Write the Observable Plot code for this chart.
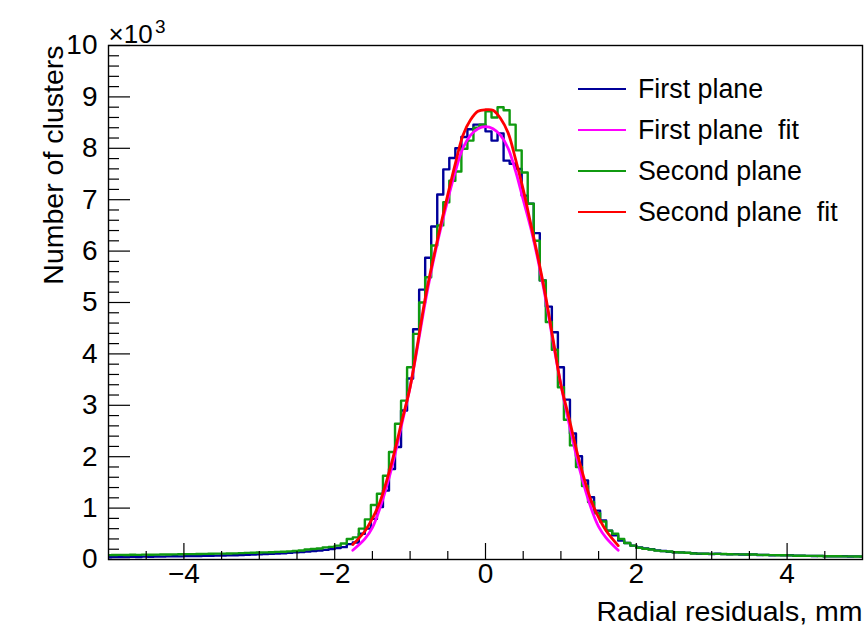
<!DOCTYPE html>
<html>
<head>
<meta charset="utf-8">
<script src="https://cdn.jsdelivr.net/npm/d3@7"></script>
<script src="https://cdn.jsdelivr.net/npm/@observablehq/plot@0.6"></script>
<style>
  html, body { margin: 0; padding: 0; background: #fff; }
  #wrap { position: relative; width: 868px; height: 626px; font-family: "Liberation Sans", Arial, Helvetica, sans-serif; }
  .leg { position: absolute; left: 578px; height: 30px; display: flex; align-items: center; font-size: 26.8px; color: #000; white-space: pre; }
  .leg i { display: inline-block; width: 48px; height: 2.5px; margin-right: 12px; }
</style>
</head>
<body>
<div id="wrap"></div>
<script>
// ---- data ----
const binLow = -5.04;      // left edge of first bin (mm)
const binWidth = 0.08;     // bin width (mm)

const firstPlane = [
  45,48,46,50,52,50,55,53,57,56,60,62,60,65,67,66,70,72,75,78,80,84,88,92,95,100,105,110,116,122,130,138,146,155,165,175,188,205,225,
  240,300,330,500,600,790,1020,1340,1760,2190,2900,3520,4480,5250,5870,6480,7100,7590,7810,8000,8220,8370,8460,8460,8330,8150,8290,7760,7700,7600,7080,6920,6350,5430,4920,4420,3740,3110,2450,2010,1540,1210,950,760,560,470,370,320,270,
  235,215,198,178,165,152,142,138,128,122,112,115,108,112,105,102,104,98,96,99,88,90,84,86,80,82,72,74,70,68,70,62,64,60,62,58,60,56
];
const secondPlane = [
  85,88,90,87,92,90,94,91,95,97,96,100,103,105,104,108,110,112,115,114,118,120,124,128,131,135,138,142,148,152,158,165,175,195,205,215,235,245,270,
  310,400,430,600,780,1060,1280,1630,2090,2640,3090,3740,4390,5000,5490,6110,6500,6950,7370,7550,7990,8150,8400,8460,8720,8600,8800,8740,8460,7960,7530,6920,6200,5430,4620,4080,3350,2720,2220,1800,1430,1120,900,740,560,500,400,320,270,
  230,210,195,172,162,155,140,135,130,118,115,113,110,110,108,103,100,100,98,96,90,88,86,84,82,80,74,72,70,70,68,64,62,62,60,60,58,58
];

const fitX      = [-1.76,-1.6,-1.5,-1.4,-1.25,-1.1,-1.0,-0.9,-0.8,-0.7,-0.6,-0.5,-0.4,-0.3,-0.2,-0.1,0,0.1,0.2,0.3,0.4,0.5,0.6,0.7,0.8,0.9,1.0,1.1,1.25,1.4,1.5,1.6,1.76];
const firstFit  = [180,400,620,1000,1750,2700,3350,4150,5000,5750,6400,7000,7550,8000,8250,8380,8420,8380,8250,8000,7550,7000,6450,5800,5050,4200,3400,2700,1750,1000,640,420,180];
const secondFit = [290,550,800,1120,1850,2750,3350,4200,5080,5800,6470,7100,7700,8250,8550,8720,8750,8740,8580,8300,7780,7200,6530,5850,5100,4250,3400,2800,1880,1150,820,560,270];

const xMajorTicks = [-4,-2,0,2,4];
const xTickLabels = ["\u22124","\u22122","0","2","4"];
const xMinorTicks = [-4.5,-3.5,-3,-2.5,-1.5,-1,-0.5,0.5,1,1.5,2.5,3,3.5,4.5];
const yMajorTicks = [0,1000,2000,3000,4000,5000,6000,7000,8000,9000,10000];
const yTickLabels = ["0","1","2","3","4","5","6","7","8","9","10"];
const yMinorTicks = [200,400,600,800,1200,1400,1600,1800,2200,2400,2600,2800,3200,3400,3600,3800,4200,4400,4600,4800,5200,5400,5600,5800,6200,6400,6600,6800,7200,7400,7600,7800,8200,8400,8600,8800,9200,9400,9600,9800];

const seriesNames = ["First plane","First plane  fit","Second plane","Second plane  fit"];
const seriesColors = ["#000099","#ff00ff","#109a10","#ff0000"];

// ---- build tables ----
function steps(values) {
  const pts = values.map((v, j) => ({x: binLow + j * binWidth, v}));
  pts.push({x: binLow + values.length * binWidth, v: values[values.length - 1]});
  return pts;
}
const h1 = steps(firstPlane), h2 = steps(secondPlane);
const f1 = fitX.map((x, i) => ({x, v: firstFit[i]}));
const f2 = fitX.map((x, i) => ({x, v: secondFit[i]}));

const W = 868, H = 626, mL = 108, mR = 6, mT = 45, mB = 67;
const frameW = W - mL - mR, frameH = H - mT - mB;
const font = "Liberation Sans, Arial, Helvetica, sans-serif";

const chart = Plot.plot({
  width: W, height: H,
  marginLeft: mL, marginRight: mR, marginTop: mT, marginBottom: mB,
  x: {domain: [-5, 5], label: null},
  y: {domain: [0, 10000], label: null},
  style: {fontFamily: font, background: "white", color: "black"},
  marks: [
    Plot.line(h1, {x: "x", y: "v", curve: "step-after", stroke: seriesColors[0], strokeWidth: 2.4, clip: true}),
    Plot.line(h2, {x: "x", y: "v", curve: "step-after", stroke: seriesColors[2], strokeWidth: 2.4, clip: true}),
    Plot.line(f1, {x: "x", y: "v", curve: "catmull-rom", stroke: seriesColors[1], strokeWidth: 2.8}),
    Plot.line(f2, {x: "x", y: "v", curve: "catmull-rom", stroke: seriesColors[3], strokeWidth: 2.8}),
    Plot.tickX(xMajorTicks, {x: d => d, insetTop: frameH - 16, stroke: "black", strokeWidth: 1.2}),
    Plot.tickX(xMinorTicks, {x: d => d, insetTop: frameH - 8, stroke: "black", strokeWidth: 1.2}),
    Plot.tickY(yMajorTicks, {y: d => d, insetRight: frameW - 22, stroke: "black", strokeWidth: 1.2}),
    Plot.tickY(yMinorTicks, {y: d => d, insetRight: frameW - 11, stroke: "black", strokeWidth: 1.2}),
    Plot.axisX(xMajorTicks, {tickSize: 0, tickPadding: 4, fontSize: 28, fontFamily: font, fill: "black",
      tickFormat: d => xTickLabels[xMajorTicks.indexOf(d)]}),
    Plot.axisY(yMajorTicks, {tickSize: 0, tickPadding: 11, fontSize: 28, fontFamily: font, fill: "black",
      tickFormat: d => yTickLabels[yMajorTicks.indexOf(d)]}),
    Plot.frame({stroke: "black", strokeWidth: 1.4}),
    Plot.text(["Radial residuals, mm"], {frameAnchor: "bottom-right", textAnchor: "end", lineAnchor: "bottom",
      dy: 61, fontSize: 28.5, fontFamily: font, fill: "black"}),
    Plot.text(["Number of clusters"], {frameAnchor: "top-left", textAnchor: "end", rotate: -90,
      dx: -66, fontSize: 28.5, fontFamily: font, fill: "black"}),
    Plot.text(["\u00d710"], {frameAnchor: "top-left", textAnchor: "start", lineAnchor: "bottom",
      dy: -3, fontSize: 26, fontFamily: font, fill: "black"}),
    Plot.text(["3"], {frameAnchor: "top-left", textAnchor: "start", lineAnchor: "bottom",
      dx: 46.5, dy: -13, fontSize: 19, fontFamily: font, fill: "black"})
  ]
});
const wrap = document.getElementById("wrap");
wrap.appendChild(chart);

// legend (HTML overlay, top-right inside frame)
const rowCenters = [89, 130, 171, 212];
seriesNames.forEach((name, i) => {
  const row = document.createElement("div");
  row.className = "leg";
  row.style.top = (rowCenters[i] - 15) + "px";
  const sw = document.createElement("i");
  sw.style.background = seriesColors[i];
  row.appendChild(sw);
  row.appendChild(document.createTextNode(name));
  wrap.appendChild(row);
});
</script>
</body>
</html>
